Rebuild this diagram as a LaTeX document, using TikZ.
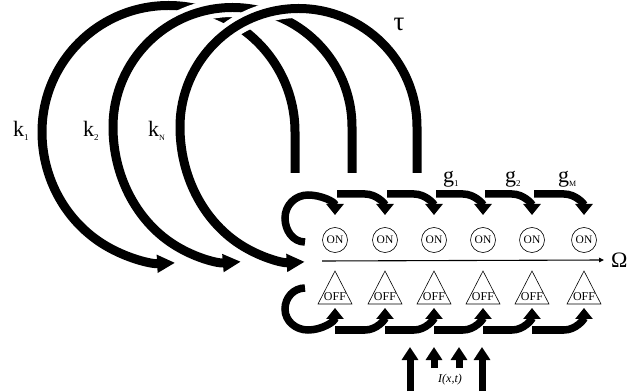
\documentclass[tikz,border=0pt]{standalone}
\usepackage{fontspec}
\setmainfont{Liberation Serif}
\usetikzlibrary{arrows.meta,calc}
\begin{document}
\begin{tikzpicture}[x=1pt,y=1pt,
  bigarc/.style={line width=9pt,-{Triangle[length=18pt,width=17pt]}},
  gapline/.style={white,line width=19pt},
  smallarr/.style={line width=7.5pt,-{Triangle[length=11pt,width=17pt]}},
  inarr/.style={line width=7pt,-{Triangle[length=13pt,width=16pt]}},
  onnode/.style={circle,draw,line width=0.6pt,minimum size=25pt,inner sep=0pt,font=\fontsize{11.5}{11.5}\selectfont},
  offtext/.style={inner sep=0pt,font=\fontsize{12}{12}\selectfont},
  tri/.style={draw,line width=0.6pt},
  lbl/.style={inner sep=0pt,anchor=base west,font=\fontsize{22}{22}\selectfont},
  sub/.style={font=\fontsize{9}{9}\selectfont}
]
\useasboundingbox (0,0) rectangle (629,391);

% big arcs
\coordinate (s1) at (295,218);
\coordinate (s2) at (352,218);
\coordinate (s3) at (417,218);
\draw[bigarc] (s1) -- ++(0,41) arc[start angle=0,end angle=180,radius=126.5]
  arc[start angle=180,end angle=273,x radius=126.5,y radius=131];
\draw[gapline] (352,264) arc[start angle=0,end angle=180,radius=119.5];
\draw[bigarc] (s2) -- ++(0,46) arc[start angle=0,end angle=180,radius=119.5]
  arc[start angle=180,end angle=274,x radius=119.5,y radius=135];
\draw[gapline] (417,264) arc[start angle=0,end angle=180,radius=118.5];
\draw[bigarc] (s3) -- ++(0,46) arc[start angle=0,end angle=180,radius=118.5]
  arc[start angle=180,end angle=273,x radius=118.5,y radius=135];

% states
\foreach \i/\x in {1/335,2/385,3/434,4/483,5/532,6/584}{
  \node[onnode] (on\i) at (\x,151) {ON};
  \draw[tri] (\x,120) -- (\x-17,87) -- (\x+17,87) -- cycle;
  \node[offtext] (off\i) at (\x,94) {OFF};
}

% axis
\coordinate (ax) at (322,130);
\node[inner sep=0pt,anchor=west,font=\fontsize{22}{22}\selectfont] (omega) at (611,131) {Ω};
\draw[line width=1.1pt,-{Triangle[length=5pt,width=4.5pt]}] (ax) -- ([xshift=-7pt]omega.west);

% self loops
\draw[smallarr] ([shift={(-30pt,-2pt)}]on1.center) to[out=180,in=-90] (285,173)
  to[out=90,in=180] (308,196) to[out=0,in=90] ([yshift=25pt]on1.center);
\draw[smallarr] ([shift={(-30pt,9pt)}]off1.center) to[out=180,in=90] (285,82)
  to[out=-90,in=180] (308,61) to[out=0,in=-90] ([yshift=-11pt]off1.center);

% transitions
\foreach \j/\i in {1/2,2/3,3/4,4/5,5/6}{
  \draw[smallarr] ([shift={(2pt,46pt)}]on\j.center) -- ([shift={(-20pt,46pt)}]on\i.center)
     to[out=0,in=90] ([yshift=25pt]on\i.center);
  \draw[smallarr] ([shift={(0pt,-33pt)}]off\j.center) -- ([shift={(-20pt,-33pt)}]off\i.center)
     to[out=0,in=-90] ([yshift=-11pt]off\i.center);
}

% input arrows
\coordinate (i1) at (410,0);
\coordinate (i2) at (434,23);
\coordinate (i3) at (459,23);
\coordinate (i4) at (482,0);
\foreach \c in {i1,i2,i3,i4}{
  \draw[inarr] (\c) -- (\c |- 0,44);
}
\node[inner sep=0pt,font=\fontsize{12}{12}\selectfont\itshape] (inp) at (450,11) {I(x,t)};

% labels
\node[lbl] (k1) at (13,254) {k\raisebox{-4pt}{\fontsize{9}{9}\selectfont 1}};
\node[lbl] (k2) at (83,254) {k\raisebox{-4pt}{\fontsize{9}{9}\selectfont 2}};
\node[lbl] (kN) at (148,254) {k\raisebox{-4pt}{\fontsize{8}{8}\selectfont N}};
\node[lbl] (g1) at (443,208) {g\raisebox{-4pt}{\fontsize{9}{9}\selectfont 1}};
\node[lbl] (g2) at (505,208) {g\raisebox{-4pt}{\fontsize{9}{9}\selectfont 2}};
\node[lbl] (gM) at (558,208) {g\raisebox{-4pt}{\fontsize{8}{8}\selectfont M}};
\node[inner sep=0pt,font=\fontsize{27}{27}\selectfont] (tau) at (399,367) {τ};
\end{tikzpicture}
\end{document}
